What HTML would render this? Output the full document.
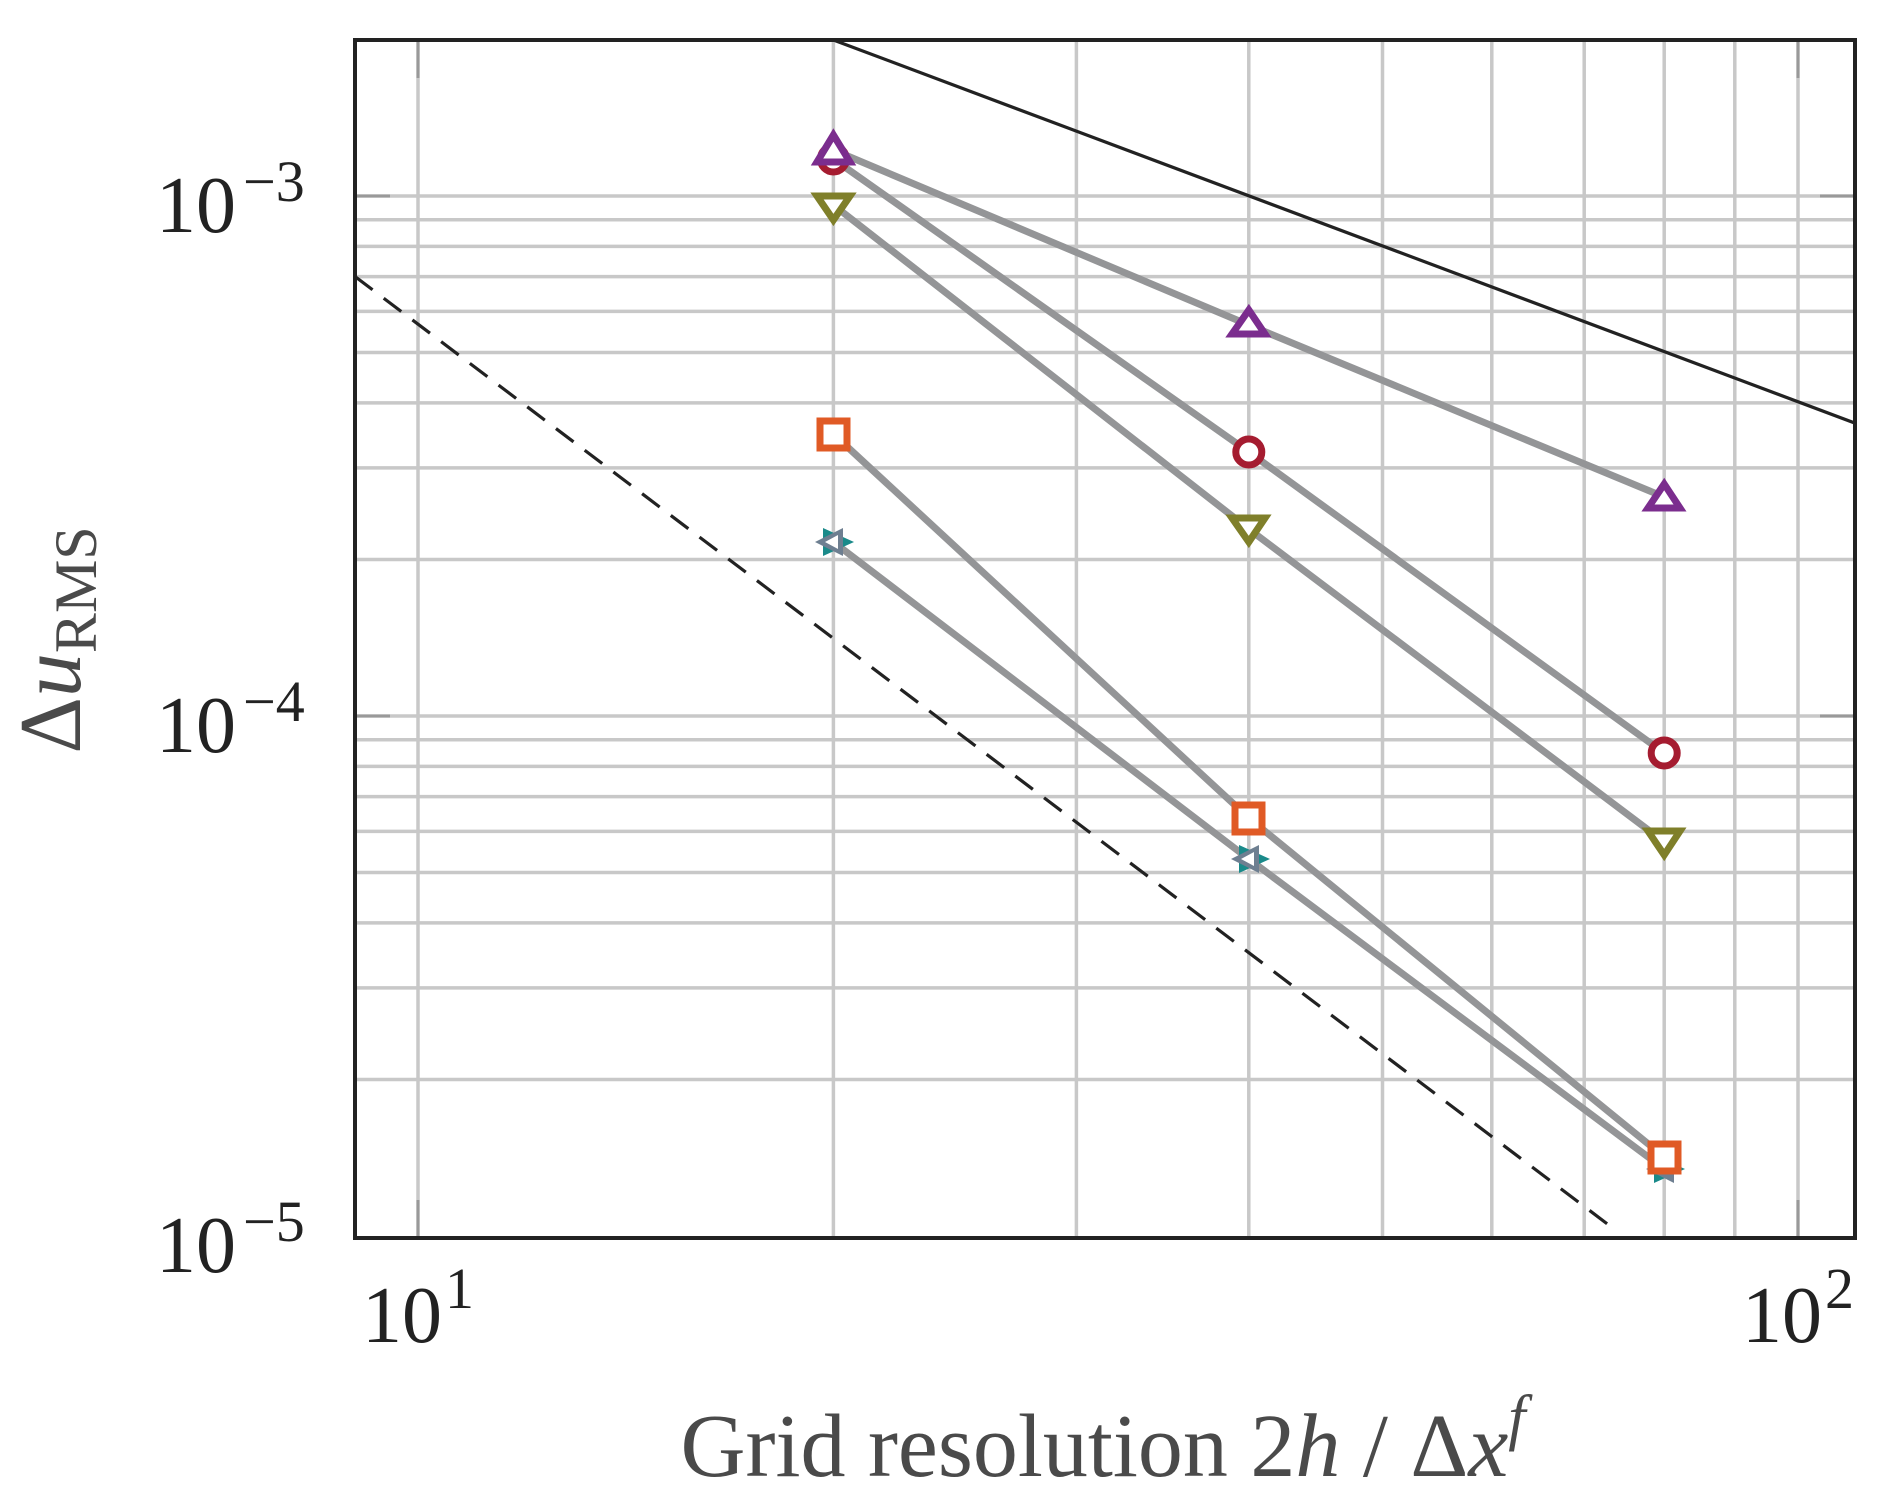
<!DOCTYPE html>
<html><head><meta charset="utf-8"><style>body{margin:0;background:#fff}svg{display:block}</style></head><body>
<svg width="1892" height="1507" viewBox="0 0 1892 1507" xmlns="http://www.w3.org/2000/svg" font-family="Liberation Serif, serif">
<defs><clipPath id="c"><rect x="355" y="40" width="1500" height="1198"/></clipPath></defs>
<g stroke="#c8c8c8" stroke-width="3.5">
<line x1="418" y1="40" x2="418" y2="1238"/>
<line x1="833.4" y1="40" x2="833.4" y2="1238"/>
<line x1="1076.4" y1="40" x2="1076.4" y2="1238"/>
<line x1="1248.8" y1="40" x2="1248.8" y2="1238"/>
<line x1="1382.5" y1="40" x2="1382.5" y2="1238"/>
<line x1="1491.8" y1="40" x2="1491.8" y2="1238"/>
<line x1="1584.2" y1="40" x2="1584.2" y2="1238"/>
<line x1="1664.2" y1="40" x2="1664.2" y2="1238"/>
<line x1="1734.8" y1="40" x2="1734.8" y2="1238"/>
<line x1="1798" y1="40" x2="1798" y2="1238"/>
</g>
<g stroke="#c8c8c8" stroke-width="3.5">
<line x1="355" x2="1855" y1="196.0" y2="196.0"/>
<line x1="355" x2="1855" y1="716.0" y2="716.0"/>
<line x1="355" x2="1855" y1="219.8" y2="219.8"/>
<line x1="355" x2="1855" y1="246.4" y2="246.4"/>
<line x1="355" x2="1855" y1="276.6" y2="276.6"/>
<line x1="355" x2="1855" y1="311.4" y2="311.4"/>
<line x1="355" x2="1855" y1="352.5" y2="352.5"/>
<line x1="355" x2="1855" y1="402.9" y2="402.9"/>
<line x1="355" x2="1855" y1="467.9" y2="467.9"/>
<line x1="355" x2="1855" y1="559.5" y2="559.5"/>
<line x1="355" x2="1855" y1="739.8" y2="739.8"/>
<line x1="355" x2="1855" y1="766.4" y2="766.4"/>
<line x1="355" x2="1855" y1="796.6" y2="796.6"/>
<line x1="355" x2="1855" y1="831.4" y2="831.4"/>
<line x1="355" x2="1855" y1="872.5" y2="872.5"/>
<line x1="355" x2="1855" y1="922.9" y2="922.9"/>
<line x1="355" x2="1855" y1="987.9" y2="987.9"/>
<line x1="355" x2="1855" y1="1079.5" y2="1079.5"/>
</g>
<g stroke="#999" stroke-width="3">
<line x1="355" x2="390" y1="196" y2="196"/><line x1="1855" x2="1820" y1="196" y2="196"/>
<line x1="355" x2="390" y1="716" y2="716"/><line x1="1855" x2="1820" y1="716" y2="716"/>
<line x1="418" x2="418" y1="40" y2="78"/><line x1="418" x2="418" y1="1238" y2="1200"/>
<line x1="1798" x2="1798" y1="40" y2="78"/><line x1="1798" x2="1798" y1="1238" y2="1200"/>
</g>
<g clip-path="url(#c)">
<line x1="833.4" y1="40" x2="1900" y2="440" stroke="#222" stroke-width="3.2"/>
<line x1="355" y1="276.5" x2="1618" y2="1232" stroke="#222" stroke-width="3.2" stroke-dasharray="22,14"/>
</g>
<g stroke="#949597" stroke-width="7" fill="none">
<polyline points="833.4,150 1248.8,325 1664.2,497"/>
<polyline points="833.4,159 1248.8,452 1664.2,753"/>
<polyline points="833.4,205 1248.8,529 1664.2,842"/>
<polyline points="833.4,434 1248.8,818 1664.2,1157"/>
<polyline points="833.4,542 1248.8,859 1664.2,1169"/>
</g>
<g>
<circle cx="833.4" cy="159" r="13" fill="#fff" stroke="#A51C30" stroke-width="7"/>
<polygon points="833.4,135 850,162 817,162" fill="#fff" stroke="#7B2D8E" stroke-width="7"/>
<polygon points="833.4,220 850,196 817,196" fill="#fff" stroke="#7F7F2A" stroke-width="7"/>
<polygon points="1248.8,310 1265,334 1232,334" fill="#fff" stroke="#7B2D8E" stroke-width="7"/>
<circle cx="1248.8" cy="452" r="13" fill="#fff" stroke="#A51C30" stroke-width="7"/>
<polygon points="1248.8,542 1265,518 1232,518" fill="#fff" stroke="#7F7F2A" stroke-width="7"/>
<polygon points="1664.2,484 1680,508 1648,508" fill="#fff" stroke="#7B2D8E" stroke-width="7"/>
<circle cx="1664.2" cy="753" r="13" fill="#fff" stroke="#A51C30" stroke-width="7"/>
<polygon points="1664.2,855 1680,831 1648,831" fill="#fff" stroke="#7F7F2A" stroke-width="7"/>
<rect x="820" y="421" width="27" height="27" fill="#fff" stroke="#E05A25" stroke-width="7"/>
<rect x="1235" y="805" width="27" height="27" fill="#fff" stroke="#E05A25" stroke-width="7"/>
<polygon points="854,542 823,528 823,556" fill="#1A8A8A"/><polygon points="815,542 843,528 843,556" fill="#6e7f91"/><polygon points="825,542 838,535 838,549" fill="#fff"/>
<polygon points="1270,859 1239,845 1239,873" fill="#1A8A8A"/><polygon points="1231,859 1259,845 1259,873" fill="#6e7f91"/><polygon points="1241,859 1254,852 1254,866" fill="#fff"/>
<polygon points="1685,1169 1654,1155 1654,1183" fill="#1A8A8A"/><polygon points="1646,1169 1674,1155 1674,1183" fill="#6e7f91"/>
<rect x="1651" y="1144" width="27" height="27" fill="#fff" stroke="#E05A25" stroke-width="7"/>
</g>
<rect x="355" y="40" width="1500" height="1198" fill="none" stroke="#222" stroke-width="4"/>
<g fill="#222" font-size="80">
<text x="236" y="232" text-anchor="end">10</text><text x="243" y="201" font-size="58">−3</text>
<text x="236" y="752" text-anchor="end">10</text><text x="243" y="721" font-size="58">−4</text>
<text x="236" y="1272" text-anchor="end">10</text><text x="243" y="1241" font-size="58">−5</text>
<text x="362" y="1342">10</text><text x="445" y="1308" font-size="58">1</text>
<text x="1742" y="1342">10</text><text x="1825" y="1308" font-size="58">2</text>
</g>
<text x="1103" y="1476" text-anchor="middle" fill="#4a4a4a" font-size="90">Grid resolution 2<tspan font-style="italic">h</tspan> / Δ<tspan font-style="italic">x</tspan><tspan font-style="italic" font-size="62" dy="-38">f</tspan></text>
<g transform="translate(80,640) rotate(-90)" fill="#4a4a4a">
<text x="0" y="0" text-anchor="middle" font-size="88">Δ<tspan font-style="italic">u</tspan><tspan font-size="60" dy="16">RMS</tspan></text>
</g>
</svg>
</body></html>
